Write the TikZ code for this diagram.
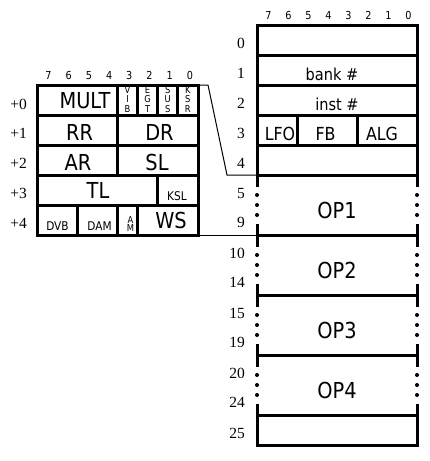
\documentclass[tikz,border=0pt]{standalone}
\usepackage{fontspec}
\setmainfont{Liberation Serif}
\newfontfamily\tah[FakeStretch=0.88]{DejaVu Sans}
\tikzset{
  reg/.style={line width=3pt, line cap=rect, line join=miter},
  link/.style={line width=1pt},
  lbl/.style={inner sep=0pt, anchor=base},
  fbig/.style={lbl, font=\tah\fontsize{22}{22}\selectfont},
  fmid/.style={lbl, font=\tah\fontsize{16.5}{16.5}\selectfont},
  fmidb/.style={lbl, font=\tah\fontsize{18}{18}\selectfont},
  fsmall/.style={lbl, font=\tah\fontsize{12}{12}\selectfont},
  ftiny/.style={lbl, font=\tah\fontsize{9.5}{9.5}\selectfont},
  fbit/.style={lbl, font=\tah\fontsize{11}{11}\selectfont},
  frow/.style={inner sep=0pt, anchor=base east, font=\fontsize{15.5}{15.5}\selectfont},
}
\begin{document}
\begin{tikzpicture}[x=1pt,y=-1pt]
\useasboundingbox (0,0) rectangle (429,461);

% ---------- right block ----------
\draw[reg] (257,185) -- (257,25) -- (417,25) -- (417,185);
\foreach \yy in {55,85,115,145,175} \draw[reg] (257,\yy) -- (417,\yy);
\draw[reg] (297,115) -- (297,145);
\draw[reg] (357,115) -- (357,145);
\foreach \yy in {235,295,355} {
  \draw[reg] (257,\yy) -- (417,\yy);
  \draw[reg] (257,\yy-10) -- (257,\yy+10);
  \draw[reg] (417,\yy-10) -- (417,\yy+10);
}
\draw[reg] (257,405) -- (257,445) -- (417,445) -- (417,405);
\draw[reg] (257,415) -- (417,415);
\foreach \tt in {175,235,295,355} \foreach \dd in {20,30,40} {
  \fill (257,\tt+\dd) circle (2pt);
  \fill (417,\tt+\dd) circle (2pt);
}

% bit numbers right
\foreach \b [count=\i from 0] in {7,6,5,4,3,2,1,0}
  \node[fbit] (rb\b) at (268.5+20*\i,19) {\b};

% row labels right
\node[frow] (r0) at (245,48) {0};
\node[frow] (r1) at (245,78) {1};
\node[frow] (r2) at (245,108) {2};
\node[frow] (r3) at (245,138) {3};
\node[frow] (r4) at (245,168) {4};
\node[frow] (r5) at (245,198) {5};
\node[frow] (r9) at (245,227) {9};
\node[frow] (r10) at (245,258) {10};
\node[frow] (r14) at (245,287) {14};
\node[frow] (r15) at (245,318) {15};
\node[frow] (r19) at (245,347) {19};
\node[frow] (r20) at (245,378) {20};
\node[frow] (r24) at (245,407) {24};
\node[frow] (r25) at (245,438) {25};

% texts right
\node[fmid] (bank) at (332,80) {bank \#};
\node[fmid] (inst) at (337,110) {inst \#};
\node[fmidb] (lfo) at (280,140) {LFO};
\node[fmidb] (fb) at (325.5,140) {FB};
\node[fmidb] (alg) at (382,140) {ALG};
\node[fbig] (op1) at (337,218) {OP1};
\node[fbig] (op2) at (337,278) {OP2};
\node[fbig] (op3) at (337,338) {OP3};
\node[fbig] (op4) at (337,398) {OP4};

% ---------- left block ----------
\draw[reg] (37,85) rectangle (198,235);
\foreach \yy in {115,145,175,205} \draw[reg] (37,\yy) -- (198,\yy);
\foreach \xx in {117.4,137.5,157.6,177.7} \draw[reg] (\xx,85) -- (\xx,115);
\draw[reg] (117.4,115) -- (117.4,175);
\draw[reg] (157.6,175) -- (157.6,205);
\foreach \xx in {77.25,117.4,137.5} \draw[reg] (\xx,205) -- (\xx,235);

% bit numbers left
\foreach \b [count=\i from 0] in {7,6,5,4,3,2,1,0}
  \node[fbit] (lb\b) at (48.5+20.2*\i,79) {\b};

% row labels left
\node[frow] (l0) at (27,109) {+0};
\node[frow] (l1) at (27,138) {+1};
\node[frow] (l2) at (27,168) {+2};
\node[frow] (l3) at (27,198) {+3};
\node[frow] (l4) at (27,228) {+4};

% texts left
\node[fbig] (mult) at (85,108.5) {MULT};
\node[ftiny] (v1) at (127.5,93) {V};
\node[ftiny] (v2) at (127.5,102.5) {I};
\node[ftiny] (v3) at (127.5,112) {B};
\node[ftiny] (e1) at (147.6,93) {E};
\node[ftiny] (e2) at (147.6,102.5) {G};
\node[ftiny] (e3) at (147.6,112) {T};
\node[ftiny] (s1) at (167.7,93) {S};
\node[ftiny] (s2) at (167.7,102.5) {U};
\node[ftiny] (s3) at (167.7,112) {S};
\node[ftiny] (k1) at (187.8,93) {K};
\node[ftiny] (k2) at (187.8,102.5) {S};
\node[ftiny] (k3) at (187.8,112) {R};
\node[fbig] (rr) at (79.5,140) {RR};
\node[fbig] (dr) at (159.5,140) {DR};
\node[fbig] (ar) at (78,170) {AR};
\node[fbig] (sl) at (157,170) {SL};
\node[fbig] (tl) at (98,198.5) {TL};
\node[fsmall] (ksl) at (177,200) {KSL};
\node[fsmall] (dvb) at (57.5,230) {DVB};
\node[fsmall] (dam) at (99.5,230) {DAM};
\node[ftiny] (am1) at (130.5,223) {A};
\node[ftiny] (am2) at (130.5,231) {M};
\node[fbig] (ws) at (171,228) {WS};

% ---------- connectors ----------
\coordinate (ltop) at (198,85);
\coordinate (lbend) at (208,85);
\coordinate (rbend) at (227,175);
\coordinate (rrow4) at (257,175);
\coordinate (lbot) at (198,235);
\coordinate (rop) at (257,235);
\draw[link] (ltop) -- (lbend) -- (rbend) -- (rrow4);
\draw[link] (lbot) -- (rop);
\end{tikzpicture}
\end{document}
